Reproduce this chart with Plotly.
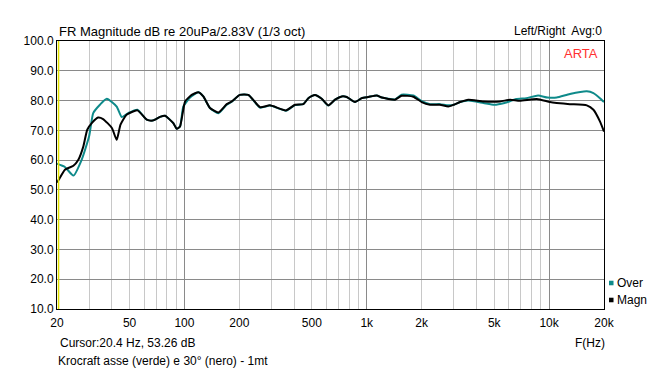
import plotly.graph_objects as go

# ---- data ----
freq_over = [20, 22.1, 24.6, 27.3, 30, 31.6, 34.4, 37.5, 42.5, 45.3, 49.2, 55.2, 62.1, 67, 73.4, 78.2, 86.9, 90.7,
             94.6, 98.6, 107.3, 119.2, 126.9, 138, 153.5, 170.6, 181.8, 201, 224, 259.8, 294.5, 360.7, 404, 449,
             478, 520, 566, 615, 670, 729, 776, 862, 938, 1021, 1134, 1208, 1429, 1553, 1800, 2000, 2222, 2520,
             2800, 3000, 3249, 3607, 4362, 5000, 5700, 6600, 7500, 8700, 9800, 11000, 13000, 16100, 17500, 19000, 20000]
db_over = [58.8, 57.7, 54.8, 60.1, 68.0, 75.8, 78.6, 80.6, 78.0, 74.5, 75.8, 76.9, 73.6, 73.3, 74.5, 74.9, 72.4, 70.5,
           71.3, 78.0, 81.0, 82.8, 81.4, 77.5, 75.7, 78.6, 79.6, 81.9, 81.9, 77.6, 78.3, 76.6, 78.5, 78.8,
           80.8, 81.9, 80.6, 78.3, 80.3, 81.4, 81.2, 79.5, 80.8, 81.2, 81.7, 81.0, 80.4, 82.0, 81.7, 79.8, 78.8, 78.8,
           78.4, 78.6, 79.5, 80.0, 79.2, 78.6, 79.2, 80.5, 80.8, 81.7, 81.0, 81.0, 82.2, 83.1, 82.5, 80.8, 79.5]

freq_magn = [20, 20.4, 22.1, 24.6, 26.2, 27.9, 29.3, 31.1, 33.6, 35.8, 40, 42.5, 44.6, 48.1, 55.2, 62.1, 67, 73.4,
             78.2, 86.9, 90.7, 94.6, 100.8, 109.6, 119.2, 126.9, 138, 153.5, 170.6, 181.8, 201, 224, 259.8, 294.5,
             360.7, 404, 449, 478, 520, 566, 615, 670, 729, 776, 862, 938, 1021, 1134, 1208, 1429, 1553, 1800,
             2000, 2222, 2520, 2800, 3000, 3249, 3607, 4362, 5383, 6110, 6900, 8560, 10100, 11000, 13000, 16100,
             17500, 19000, 20000]
db_magn = [52.5, 53.3, 56.8, 58.1, 60.1, 64.6, 70.2, 72.5, 74.3, 73.8, 70.8, 66.8, 71.9, 75.2, 76.7, 73.6, 73.3, 74.5,
           74.9, 72.4, 70.5, 71.3, 79.7, 81.9, 82.8, 81.4, 77.5, 76.0, 78.8, 79.7, 81.9, 81.9, 77.8, 78.4,
           76.7, 78.6, 78.8, 80.8, 81.9, 80.6, 78.4, 80.3, 81.4, 81.2, 79.5, 80.8, 81.2, 81.7, 81.0, 80.3, 81.6, 81.3,
           79.5, 78.6, 78.6, 78.0, 78.6, 79.5, 80.3, 79.7, 79.7, 80.3, 79.9, 80.5, 79.5, 79.2, 78.8, 78.4,
           76.9, 73.0, 69.6]

x_tick_vals = [20, 50, 100, 200, 500, 1000, 2000, 5000, 10000, 20000]
x_tick_text = ["20", "50", "100", "200", "500", "1k", "2k", "5k", "10k", "20k"]
x_minor_grid = [20, 30, 40, 50, 60, 70, 80, 90, 200, 300, 400, 500, 600, 700, 800, 900,
                2000, 3000, 4000, 5000, 6000, 7000, 8000, 9000]
x_major_grid = [100, 1000, 10000]
y_tick_vals = [10, 20, 30, 40, 50, 60, 70, 80, 90, 100]
y_tick_text = ["%.1f" % v for v in y_tick_vals]
cursor_freq = 20.4
legend_names = ["Over", "Magn"]

FONT = "Liberation Sans, Arial, sans-serif"
TEAL = "#0e8a8a"
legend_colors = [TEAL, "#000000"]

fig = go.Figure()
# dummy trace to activate xaxis2 (decade grid)
fig.add_trace(go.Scatter(x=[None], y=[None], xaxis="x2", showlegend=False, hoverinfo="skip"))
fig.add_trace(go.Scatter(x=freq_over, y=db_over, mode="lines", name="Over",
                         line=dict(color=TEAL, width=2, shape="spline", smoothing=0.5),
                         showlegend=False, hoverinfo="skip"))
fig.add_trace(go.Scatter(x=freq_magn, y=db_magn, mode="lines", name="Magn",
                         line=dict(color="#000000", width=2, shape="spline", smoothing=0.5),
                         showlegend=False, hoverinfo="skip"))

# cursor line
fig.add_shape(type="line", xref="x", yref="y", x0=cursor_freq, x1=cursor_freq, y0=10, y1=100,
              line=dict(color="#e0e000", width=1.5))

# legend (square swatches + labels) to the right of the plot
for i, (nm, col) in enumerate(zip(legend_names, legend_colors)):
    yc = 0.097 - i * 0.0634
    fig.add_shape(type="rect", xref="paper", yref="paper", x0=1.0091, x1=1.0174, y0=yc - 0.0085, y1=yc + 0.0085,
                  fillcolor=col, line=dict(width=0))
    fig.add_annotation(text=nm, xref="paper", yref="paper", x=1.0219, y=yc, xanchor="left", yanchor="middle",
                       showarrow=False, font=dict(size=12), xshift=-1)

fig.update_layout(
    width=660, height=373,
    margin=dict(l=57, r=56, t=41, b=64, autoexpand=False),
    paper_bgcolor="white", plot_bgcolor="white",
    font=dict(family=FONT, size=12, color="#000000"),
    showlegend=False,
    xaxis=dict(type="log", range=[1.30103, 4.30103], tickvals=x_tick_vals, ticktext=x_tick_text,
               showgrid=False, zeroline=False, showline=True, linecolor="#000000", linewidth=1, mirror=True,
               ticks="", tickfont=dict(size=12), automargin=False, ticklabelstandoff=3,
               minor=dict(tickvals=x_minor_grid, showgrid=True, gridcolor="#c8c8c8", gridwidth=1, ticks="")),
    xaxis2=dict(type="log", range=[1.30103, 4.30103], overlaying="x", tickvals=x_major_grid, showticklabels=False,
                showgrid=True, gridcolor="#8a8a8a", gridwidth=1, ticks="", zeroline=False, automargin=False),
    yaxis=dict(range=[10, 100], tickvals=y_tick_vals, ticktext=y_tick_text, showgrid=True, gridcolor="#8a8a8a",
               gridwidth=1, zeroline=False, showline=True, linecolor="#000000", linewidth=1, mirror=True,
               ticks="", tickfont=dict(size=12), automargin=False),
)

fig.add_annotation(text="FR Magnitude dB re 20uPa/2.83V (1/3 oct)", xref="paper", yref="paper", x=0.0, y=1.037,
                   xanchor="left", yanchor="middle", showarrow=False, font=dict(size=13))
fig.add_annotation(text="Left/Right  Avg:0", xref="paper", yref="paper", x=1.0, y=1.037,
                   xanchor="right", yanchor="middle", showarrow=False, font=dict(size=12))
fig.add_annotation(text="ARTA", xref="paper", yref="paper", x=0.993, y=0.955,
                   xanchor="right", yanchor="middle", showarrow=False, font=dict(size=13, color="#ff3030"))
fig.add_annotation(text="Cursor:20.4 Hz, 53.26 dB", xref="paper", yref="paper", x=0.002, y=-0.127,
                   xanchor="left", yanchor="middle", showarrow=False, font=dict(size=12))
fig.add_annotation(text="F(Hz)", xref="paper", yref="paper", x=0.974, y=-0.127,
                   xanchor="center", yanchor="middle", showarrow=False, font=dict(size=12))
fig.add_annotation(text="Krocraft asse (verde) e 30° (nero) - 1mt", xref="paper", yref="paper", x=-0.002, y=-0.194,
                   xanchor="left", yanchor="middle", showarrow=False, font=dict(size=12))

fig.write_html("out.html", config={"displayModeBar": False},
               post_script="document.body.style.margin='0';document.body.style.overflow='hidden';")
